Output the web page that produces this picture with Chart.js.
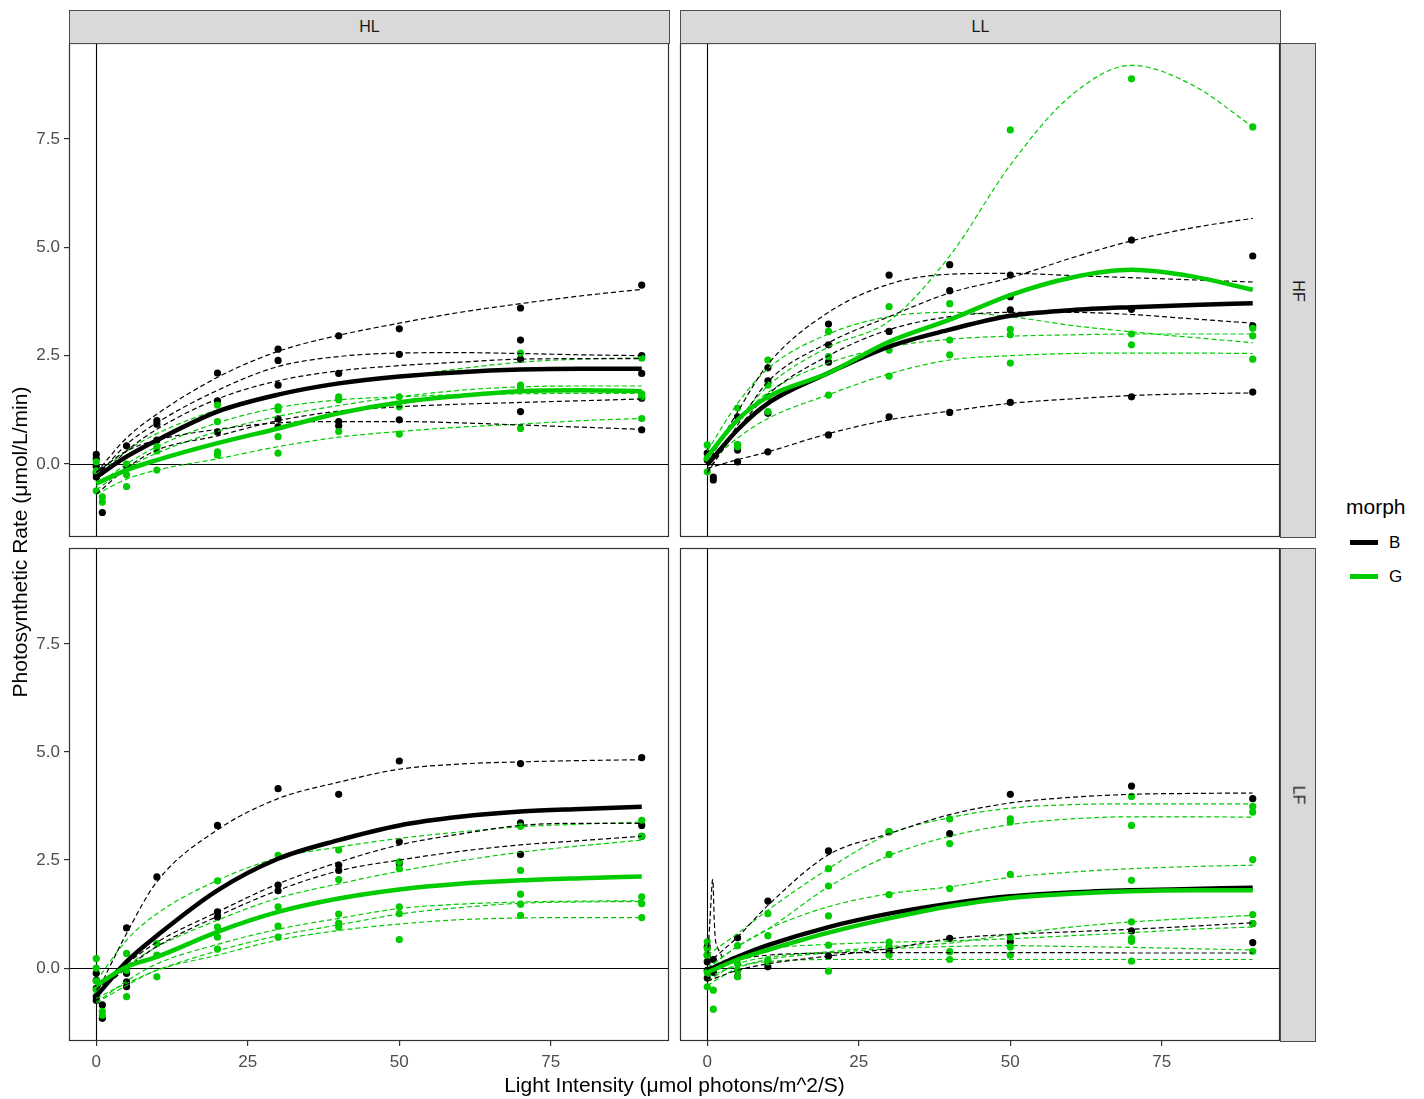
<!DOCTYPE html>
<html><head><meta charset="utf-8">
<script src="https://cdn.jsdelivr.net/npm/chart.js@4.4.0/dist/chart.umd.min.js"></script>
<style>
body{margin:0;background:#fff;width:1424px;height:1099px;position:relative;overflow:hidden;font-family:"Liberation Sans",Arial,sans-serif;}
.wrap{position:absolute;}
.strip{position:absolute;background:#D9D9D9;border:1px solid #4D4D4D;box-sizing:border-box;display:flex;align-items:center;justify-content:center;font-size:16px;color:#1A1A1A;}
.rot{transform:rotate(90deg);white-space:nowrap;}
.txt{position:absolute;color:#000;white-space:nowrap;}
</style></head>
<body>
<script>
// ---------- data ----------
const X_MIN = -4.5, X_MAX = 94.5, Y_MIN = -1.685, Y_MAX = 9.716;
const X_TICKS = [0, 25, 50, 75];
const Y_TICKS = [0, 2.5, 5, 7.5];
const COL_LABELS = ['HL', 'LL'];
const ROW_LABELS = ['HF', 'LF'];
const MORPHS = ['B', 'G'];
const MORPH_COLORS = ['#000000', '#00CC00'];
const FIT_X = [0, 5, 10, 20, 30, 40, 50, 60, 70, 80, 90];

// HL / HF
const HL_HF_B_PTS = [[0,0.22],[0,0.12],[0,-0.05],[0,-0.2],[0,-0.3],[1,-1.12],[1,-0.15],[5,0.42],[5,-0.05],[10,1.0],[10,0.92],[10,0.55],[20,2.1],[20,1.46],[20,0.74],[30,2.65],[30,2.39],[30,1.82],[30,1.04],[30,0.86],[40,2.96],[40,2.09],[40,0.98],[40,0.88],[50,3.12],[50,2.53],[50,1.02],[70,3.6],[70,2.86],[70,2.42],[70,1.21],[90,4.13],[90,2.5],[90,2.09],[90,1.52],[90,0.79]];
const HL_HF_G_PTS = [[0,0.05],[0,-0.16],[0,-0.62],[1,-0.76],[1,-0.88],[5,0.0],[5,-0.25],[5,-0.52],[10,0.4],[10,0.3],[10,-0.14],[20,1.36],[20,0.98],[20,0.28],[20,0.21],[30,1.32],[30,1.25],[30,0.63],[30,0.25],[40,1.55],[40,1.48],[40,0.75],[50,1.55],[50,1.32],[50,0.69],[70,2.56],[70,1.82],[70,1.75],[70,0.82],[90,2.44],[90,1.62],[90,1.55],[90,1.05]];
const HL_HF_B_FITS = [
  [-0.2,0.6,1.15,2.0,2.6,2.97,3.25,3.5,3.7,3.88,4.03],
  [-0.3,0.45,0.95,1.7,2.25,2.48,2.56,2.57,2.55,2.52,2.5],
  [-0.4,0.3,0.8,1.5,1.92,2.15,2.27,2.35,2.42,2.43,2.43],
  [-0.7,-0.1,0.32,0.65,1.0,1.22,1.32,1.38,1.42,1.46,1.5],
  [-0.2,0.3,0.55,0.8,0.95,0.98,0.98,0.95,0.9,0.85,0.8]];
const HL_HF_G_FITS = [
  [-0.3,0.3,0.7,1.25,1.62,1.85,2.02,2.2,2.35,2.42,2.45],
  [-0.5,0.0,0.4,0.95,1.3,1.48,1.55,1.6,1.62,1.63,1.63],
  [-0.7,-0.35,-0.14,0.12,0.4,0.62,0.75,0.85,0.92,1.0,1.05],
  [-0.6,-0.1,0.25,0.75,1.1,1.35,1.55,1.7,1.78,1.8,1.8]];
const HL_HF_B_MEAN = [-0.3,0.17,0.55,1.21,1.6,1.86,2.02,2.12,2.18,2.2,2.2];
const HL_HF_G_MEAN = [-0.45,-0.14,0.09,0.48,0.82,1.17,1.42,1.57,1.68,1.7,1.68];

// LL / HF
const LL_HF_B_PTS = [[0,0.25],[0,0.09],[1,-0.3],[1,-0.37],[5,1.09],[5,0.44],[5,0.32],[5,0.05],[10,2.22],[10,1.92],[10,1.17],[10,0.28],[20,3.23],[20,2.75],[20,2.35],[20,0.67],[30,4.36],[30,3.06],[30,1.09],[40,4.6],[40,4.0],[40,1.19],[50,4.36],[50,3.86],[50,3.56],[50,1.42],[70,5.17],[70,3.57],[70,1.55],[90,4.8],[90,3.19],[90,1.66]];
const LL_HF_G_PTS = [[0,0.44],[0,0.13],[0,-0.18],[5,1.29],[5,0.45],[5,0.4],[10,2.4],[10,1.82],[10,1.55],[10,1.21],[20,3.06],[20,2.48],[20,1.59],[30,3.63],[30,2.63],[30,2.03],[40,3.7],[40,2.86],[40,2.52],[50,7.71],[50,3.11],[50,2.98],[50,2.33],[70,8.89],[70,3.0],[70,2.75],[90,7.78],[90,3.13],[90,2.96],[90,2.42]];
const LL_HF_B_FITS = [
  [0.0,1.2,2.3,3.5,4.15,4.38,4.4,4.35,4.3,4.25,4.2],
  [-0.2,0.9,1.9,2.8,3.4,3.95,4.3,4.75,5.15,5.45,5.67],
  [-0.2,0.8,1.6,2.5,3.1,3.4,3.5,3.5,3.45,3.35,3.25],
  [-0.1,0.1,0.28,0.7,1.02,1.22,1.4,1.5,1.58,1.62,1.64]];
const LL_HF_G_FITS = [
  [0.1,1.0,1.8,2.7,3.3,4.8,6.9,8.5,9.2,8.75,7.78],
  [0.3,1.4,2.2,3.0,3.4,3.5,3.4,3.2,3.05,2.92,2.8],
  [0.2,1.0,1.65,2.33,2.7,2.88,2.95,2.98,3.0,3.0,3.0],
  [0.0,0.6,1.05,1.6,2.08,2.4,2.5,2.55,2.56,2.56,2.55]];
const LL_HF_B_MEAN = [-0.02,0.79,1.4,2.1,2.71,3.1,3.42,3.55,3.62,3.67,3.71];
const LL_HF_G_MEAN = [0.17,1.02,1.55,2.1,2.82,3.33,3.9,4.3,4.48,4.33,4.02];

// HL / LF
const HL_LF_B_PTS = [[0,-0.12],[0,-0.28],[0,-0.47],[0,-0.66],[0,-0.74],[1,-0.85],[1,-1.16],[5,0.93],[5,-0.12],[5,-0.32],[5,-0.43],[10,2.11],[20,3.3],[20,1.3],[20,1.18],[30,4.15],[30,1.92],[30,1.79],[40,4.02],[40,2.38],[40,2.26],[50,4.79],[50,2.92],[50,2.42],[70,4.73],[70,3.36],[70,2.63],[90,4.87],[90,3.3],[90,3.05]];
const HL_LF_G_PTS = [[0,0.22],[0,0.0],[0,-0.3],[0,-0.5],[1,-1.0],[1,-1.09],[5,0.34],[5,-0.05],[5,-0.66],[10,0.57],[10,0.3],[10,-0.2],[20,2.02],[20,0.95],[20,0.72],[20,0.44],[30,2.61],[30,1.42],[30,0.97],[30,0.72],[40,2.73],[40,2.05],[40,1.25],[40,1.04],[40,0.95],[50,2.46],[50,2.3],[50,1.42],[50,1.26],[50,0.66],[70,3.28],[70,2.26],[70,1.71],[70,1.48],[70,1.22],[90,3.42],[90,3.05],[90,1.65],[90,1.49],[90,1.17]];
const HL_LF_B_FITS = [
  [-0.6,0.8,2.0,3.2,3.92,4.3,4.6,4.72,4.77,4.8,4.82],
  [-0.5,0.1,0.6,1.3,1.95,2.45,2.85,3.1,3.3,3.35,3.35],
  [-0.6,0.0,0.5,1.2,1.8,2.25,2.5,2.7,2.85,2.95,3.05]];
const HL_LF_G_FITS = [
  [-0.3,0.65,1.26,2.03,2.55,2.8,3.0,3.15,3.27,3.33,3.38],
  [-0.5,0.05,0.49,1.11,1.62,1.95,2.24,2.48,2.68,2.83,2.96],
  [-0.8,-0.3,0.1,0.55,0.9,1.15,1.38,1.48,1.53,1.55,1.56],
  [-0.7,-0.35,-0.05,0.4,0.75,1.0,1.25,1.4,1.5,1.53,1.54],
  [-0.8,-0.4,-0.05,0.3,0.65,0.87,1.02,1.12,1.16,1.17,1.17]];
const HL_LF_B_MEAN = [-0.65,0.15,0.75,1.8,2.53,2.96,3.3,3.5,3.62,3.68,3.73];
const HL_LF_G_MEAN = [-0.4,0.03,0.26,0.84,1.3,1.61,1.82,1.95,2.03,2.08,2.12];

// LL / LF
const LL_LF_B_PTS = [[0,0.5],[0,0.3],[0,0.15],[0,-0.05],[0,-0.23],[1,0.2],[1,-0.1],[5,0.7],[5,-0.05],[5,-0.19],[10,1.55],[10,0.03],[20,2.71],[20,0.28],[30,3.15],[30,0.42],[40,3.11],[40,0.69],[50,4.02],[50,0.61],[70,4.21],[70,0.86],[90,3.92],[90,1.03],[90,0.59]];
const LL_LF_G_PTS = [[0,0.61],[0,0.45],[0,0.3],[0,-0.1],[0,-0.43],[1,-0.51],[1,-0.95],[5,0.52],[5,0.1],[5,-0.05],[5,-0.2],[10,1.26],[10,0.75],[10,0.2],[10,0.15],[20,2.3],[20,1.9],[20,1.21],[20,0.53],[20,-0.07],[30,3.16],[30,2.63],[30,1.7],[30,0.6],[30,0.5],[30,0.3],[40,3.45],[40,2.88],[40,1.84],[40,0.38],[40,0.2],[50,3.45],[50,3.38],[50,2.17],[50,0.72],[50,0.49],[50,0.3],[70,3.97],[70,3.3],[70,2.03],[70,1.07],[70,0.69],[70,0.62],[70,0.16],[90,3.74],[90,3.61],[90,2.51],[90,1.24],[90,1.03],[90,0.39]];
const LL_LF_B_FITS = [
  [0.1,0.72,1.45,2.62,3.11,3.55,3.82,3.95,4.02,4.04,4.05],
  [-0.3,-0.05,0.1,0.28,0.45,0.68,0.78,0.84,0.9,0.97,1.05],
  [0.0,0.2,0.3,0.35,0.36,0.36,0.36,0.36,0.35,0.35,0.35]];
const LL_LF_B_SPIKE_X = [0, 0.4, 0.9, 1.4, 2.5];
const LL_LF_B_SPIKE_Y = [0.1, 1.0, 2.05, 0.6, 0.25];
const LL_LF_G_FITS = [
  [0.3,0.8,1.34,2.3,3.1,3.48,3.7,3.78,3.8,3.8,3.8],
  [0.0,0.5,0.9,1.88,2.6,3.05,3.32,3.45,3.5,3.5,3.49],
  [0.0,0.5,0.9,1.42,1.72,1.88,2.1,2.22,2.3,2.35,2.38],
  [-0.3,0.1,0.25,0.38,0.5,0.58,0.78,0.95,1.07,1.15,1.22],
  [0.0,0.3,0.45,0.55,0.6,0.63,0.68,0.75,0.82,0.9,0.95],
  [-0.2,0.05,0.15,0.2,0.2,0.2,0.2,0.2,0.2,0.2,0.2],
  [-0.4,0.0,0.2,0.35,0.45,0.5,0.52,0.5,0.48,0.45,0.42]];
const LL_LF_B_MEAN = [-0.05,0.26,0.53,0.95,1.26,1.49,1.66,1.75,1.8,1.83,1.86];
const LL_LF_G_MEAN = [-0.1,0.2,0.42,0.82,1.15,1.43,1.62,1.72,1.78,1.8,1.8];

// ---------- layout ----------
const FONT = '"Liberation Sans", Arial, sans-serif';
const PAD = 22, YAXIS_W = 40, XAXIS_H = 32;
const PANELS = [
  {left:69, top:43, w:600, h:494, yAxis:true, xAxis:false, bPts:HL_HF_B_PTS, gPts:HL_HF_G_PTS, bFits:HL_HF_B_FITS, gFits:HL_HF_G_FITS, bMean:HL_HF_B_MEAN, gMean:HL_HF_G_MEAN},
  {left:680, top:43, w:600, h:494, yAxis:false, xAxis:false, bPts:LL_HF_B_PTS, gPts:LL_HF_G_PTS, bFits:LL_HF_B_FITS, gFits:LL_HF_G_FITS, bMean:LL_HF_B_MEAN, gMean:LL_HF_G_MEAN},
  {left:69, top:548, w:600, h:493, yAxis:true, xAxis:true, bPts:HL_LF_B_PTS, gPts:HL_LF_G_PTS, bFits:HL_LF_B_FITS, gFits:HL_LF_G_FITS, bMean:HL_LF_B_MEAN, gMean:HL_LF_G_MEAN},
  {left:680, top:548, w:600, h:493, yAxis:false, xAxis:true, bPts:LL_LF_B_PTS, gPts:LL_LF_G_PTS, bFits:LL_LF_B_FITS, gFits:LL_LF_G_FITS, bMean:LL_LF_B_MEAN, gMean:LL_LF_G_MEAN, spike:true}
];

const decor = {
  id:'decor',
  beforeDatasetsDraw(chart){
    const {ctx, chartArea:ca, scales:{x, y}} = chart;
    ctx.save();
    ctx.beginPath(); ctx.rect(ca.left, ca.top, ca.width, ca.height); ctx.clip();
    ctx.strokeStyle = '#000'; ctx.lineWidth = 1.1;
    const px = Math.round(x.getPixelForValue(0)) + 0.5;
    const py = Math.round(y.getPixelForValue(0)) + 0.5;
    ctx.beginPath(); ctx.moveTo(px, ca.top); ctx.lineTo(px, ca.bottom); ctx.stroke();
    ctx.beginPath(); ctx.moveTo(ca.left, py); ctx.lineTo(ca.right, py); ctx.stroke();
    ctx.restore();
  },
  afterDraw(chart){
    const {ctx, chartArea:ca} = chart;
    ctx.save(); ctx.strokeStyle = '#333333'; ctx.lineWidth = 1.2;
    ctx.strokeRect(ca.left + 0.5, ca.top + 0.5, ca.width - 1, ca.height - 1);
    ctx.restore();
  }
};

function fitData(arr, xs){ return (xs || FIT_X).map((x, i) => ({x, y: arr[i]})); }

PANELS.forEach(p => {
  const padL = PAD + (p.yAxis ? YAXIS_W : 0);
  const cw = padL + p.w + PAD;
  const ch = PAD + p.h + (p.xAxis ? XAXIS_H : 0) + PAD;
  const div = document.createElement('div');
  div.className = 'wrap';
  div.style.left = (p.left - padL) + 'px';
  div.style.top = (p.top - PAD) + 'px';
  div.style.width = cw + 'px'; div.style.height = ch + 'px';
  const cv = document.createElement('canvas');
  cv.width = cw; cv.height = ch;
  cv.style.width = cw + 'px'; cv.style.height = ch + 'px';
  div.appendChild(cv); document.body.appendChild(div);

  const ds = [];
  [[p.bPts, 0], [p.gPts, 1]].forEach(([pts, m]) => {
    ds.push({type:'scatter', label:MORPHS[m]+' pts', data: pts.map(([x, y]) => ({x, y})),
      backgroundColor: MORPH_COLORS[m], borderWidth:0, pointRadius:3.6, showLine:false, order:5 - m});
  });
  [[p.bFits, 0], [p.gFits, 1]].forEach(([fits, m]) => {
    fits.forEach(f => ds.push({type:'line', label:MORPHS[m]+' rep', data: fitData(f),
      borderColor: MORPH_COLORS[m], borderWidth:1.2, borderDash:[5,3], pointRadius:0,
      cubicInterpolationMode:'monotone', fill:false, order:3}));
  });
  if (p.spike) {
    ds.push({type:'line', label:'B rep', data: LL_LF_B_SPIKE_X.map((x, i) => ({x, y: LL_LF_B_SPIKE_Y[i]})),
      borderColor:'#000', borderWidth:1.2, borderDash:[5,3], pointRadius:0, tension:0.3, order:3});
  }
  ds.push({type:'line', label:'B', data: fitData(p.bMean), borderColor:MORPH_COLORS[0], borderWidth:4.5,
    pointRadius:0, cubicInterpolationMode:'monotone', order:2});
  ds.push({type:'line', label:'G', data: fitData(p.gMean), borderColor:MORPH_COLORS[1], borderWidth:4.5,
    pointRadius:0, cubicInterpolationMode:'monotone', order:1});

  new Chart(cv, {
    type:'line',
    data:{datasets: ds},
    options:{
      responsive:false, animation:false, events:[],
      layout:{padding:PAD},
      plugins:{legend:{display:false}, tooltip:{enabled:false}},
      scales:{
        x:{type:'linear', min:X_MIN, max:X_MAX, display:p.xAxis,
          afterBuildTicks: s => { s.ticks = X_TICKS.map(v => ({value:v})); },
          afterFit: s => { if (p.xAxis) s.height = XAXIS_H; },
          grid:{display:true, drawOnChartArea:false, drawTicks:true, tickLength:5, color:'#333333', lineWidth:1.2},
          border:{display:false},
          ticks:{color:'#4D4D4D', font:{size:17, family:FONT}, padding:6, maxRotation:0, autoSkip:false}},
        y:{type:'linear', min:Y_MIN, max:Y_MAX, display:p.yAxis,
          afterBuildTicks: s => { s.ticks = Y_TICKS.map(v => ({value:v})); },
          afterFit: s => { if (p.yAxis) s.width = YAXIS_W; },
          grid:{display:true, drawOnChartArea:false, drawTicks:true, tickLength:5, color:'#333333', lineWidth:1.2},
          border:{display:false},
          ticks:{color:'#4D4D4D', font:{size:17, family:FONT}, padding:4, autoSkip:false,
            callback: v => Number(v).toFixed(1)}}
      }
    },
    plugins:[decor]
  });
});

// strips
function addDiv(cls, css, html){
  const d = document.createElement('div'); d.className = cls;
  Object.assign(d.style, css); d.innerHTML = html; document.body.appendChild(d); return d;
}
addDiv('strip', {left:'69px', top:'10px', width:'601px', height:'34px'}, COL_LABELS[0]);
addDiv('strip', {left:'680px', top:'10px', width:'601px', height:'34px'}, COL_LABELS[1]);
addDiv('strip', {left:'1280px', top:'43px', width:'36px', height:'495px'}, '<span class="rot">'+ROW_LABELS[0]+'</span>');
addDiv('strip', {left:'1280px', top:'548px', width:'36px', height:'494px'}, '<span class="rot">'+ROW_LABELS[1]+'</span>');

// axis titles
addDiv('txt', {left:'69px', width:'1211px', top:'1073px', textAlign:'center', fontSize:'21px', lineHeight:'24px'}, 'Light Intensity (μmol photons/m^2/S)');
addDiv('txt', {left:'-480px', width:'1000px', top:'530px', height:'24px', lineHeight:'24px', textAlign:'center', fontSize:'21px', transform:'rotate(-90deg)'}, 'Photosynthetic Rate (μmol/L/min)');

// legend
addDiv('txt', {left:'1346px', top:'495px', fontSize:'21px', lineHeight:'24px'}, 'morph');
MORPHS.forEach((m, i) => {
  addDiv('txt', {left:'1350px', top:(540 + i*34)+'px', width:'28px', height:'5px', background:MORPH_COLORS[i]}, '');
  addDiv('txt', {left:'1389px', top:(533 + i*34)+'px', fontSize:'17px', lineHeight:'20px'}, m);
});
</script>
</body></html>
